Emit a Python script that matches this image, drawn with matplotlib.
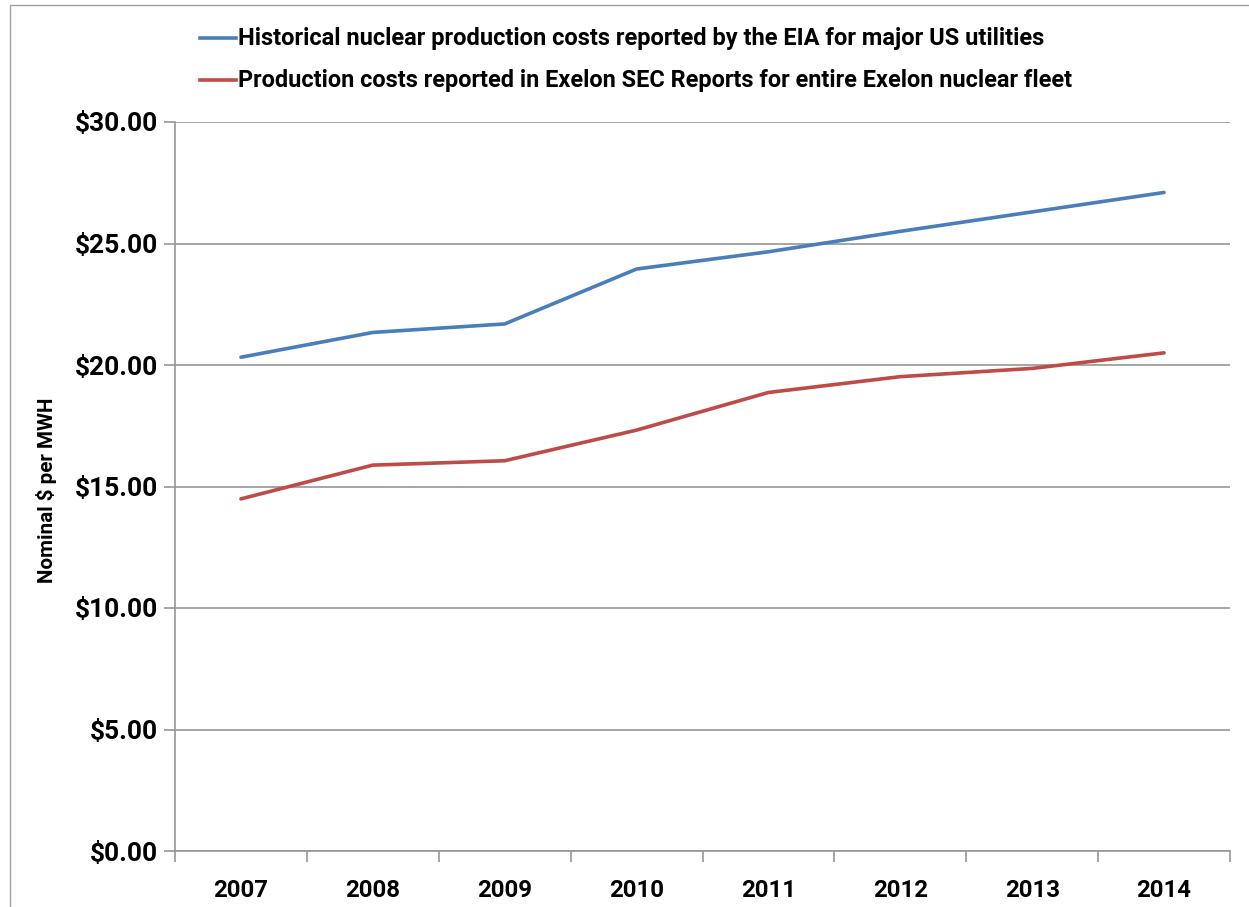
import matplotlib
matplotlib.use("Agg")
import matplotlib.pyplot as plt
from matplotlib.lines import Line2D
from matplotlib.ticker import FixedLocator, NullFormatter

years = ["2007", "2008", "2009", "2010", "2011", "2012", "2013", "2014"]
eia_costs = [20.32, 21.34, 21.69, 23.95, 24.66, 25.50, 26.30, 27.10]
exelon_costs = [14.49, 15.88, 16.06, 17.32, 18.87, 19.52, 19.86, 20.50]
y_ticks = [0, 5, 10, 15, 20, 25, 30]
series_labels = [
    "Historical nuclear production costs reported by the EIA for major US utilities",
    "Production costs reported in Exelon SEC Reports for entire Exelon nuclear fleet",
]

plt.rcParams["font.family"] = ["Roboto", "DejaVu Sans"]
plt.rcParams["font.weight"] = "bold"

W, H = 1249, 907
fig = plt.figure(figsize=(W / 100, H / 100), dpi=100)
ax = fig.add_axes([175 / W, 1 - 851 / H, (1230 - 175) / W, (851 - 122) / H])
renderer = fig.canvas.get_renderer()


def fit(text_obj, target_px, horizontal=True):
    bb = text_obj.get_window_extent(renderer)
    cur = bb.width if horizontal else bb.height
    text_obj.set_fontsize(text_obj.get_fontsize() * target_px / cur)


blue = "#4A7EBB"
red = "#BE4B48"
x = list(range(len(years)))
ax.plot(x, eia_costs, color=blue, lw=2.6, solid_capstyle="round", zorder=3)
ax.plot(x, exelon_costs, color=red, lw=2.6, solid_capstyle="round", zorder=3)

ax.set_xlim(-0.5, len(years) - 0.5)
ax.set_ylim(0, 30)
ax.set_yticks(y_ticks)
ylabels = ax.set_yticklabels([f"${v:.2f}" for v in y_ticks], fontsize=18, fontweight="bold")
ax.set_xticks(x)
xlabels = ax.set_xticklabels(years, fontsize=18, fontweight="bold")
ax.tick_params(axis="x", which="major", length=0, pad=20)
ax.xaxis.set_minor_locator(FixedLocator([i - 0.5 for i in range(len(years) + 1)]))
ax.xaxis.set_minor_formatter(NullFormatter())
ax.tick_params(axis="x", which="minor", length=8, color="#969696", width=1.2)
ax.tick_params(axis="y", length=8, color="#969696", width=1.2, pad=4)

ax.grid(axis="y", color="#969696", lw=1.2)
ax.set_axisbelow(True)
for s in ["top", "right"]:
    ax.spines[s].set_visible(False)
for s in ["left", "bottom"]:
    ax.spines[s].set_color("#969696")
    ax.spines[s].set_linewidth(1.2)

fig.canvas.draw()
fit(ylabels[-1], 83)
fs_y = ylabels[-1].get_fontsize()
for t in ylabels:
    t.set_fontsize(fs_y)
fit(xlabels[0], 55)
fs_x = xlabels[0].get_fontsize()
for t in xlabels:
    t.set_fontsize(fs_x)

yl = fig.text(47 / W, 1 - 490 / H, "Nominal $ per MWH", fontsize=15, fontweight="bold",
              rotation=90, ha="center", va="center")
fit(yl, 187, horizontal=False)

# legend
legend_targets = [805, 832]
for i, (lab, col) in enumerate(zip(series_labels, [blue, red])):
    yy = 1 - (38 + 42 * i) / H
    fig.add_artist(Line2D([200 / W, 236 / W], [yy, yy], color=col, lw=2.6,
                          transform=fig.transFigure))
    t = fig.text(238 / W, yy, lab, fontsize=17, fontweight="bold", va="center", ha="left")
    fit(t, legend_targets[i])

# outer frame
fig.add_artist(Line2D([10 / W, 10 / W, 1.2], [0, 1 - 5 / H, 1 - 5 / H],
                      color="#A0A0A0", lw=1.0, transform=fig.transFigure))

fig.savefig("out.png", dpi=100)
